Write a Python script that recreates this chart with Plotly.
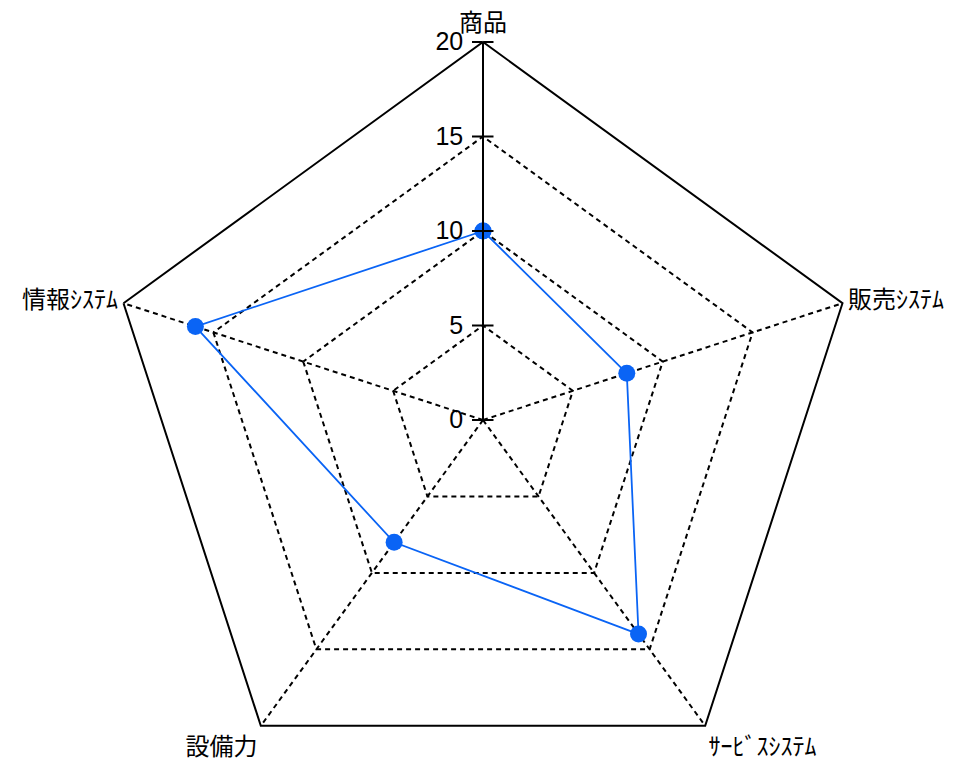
import plotly.graph_objects as go

categories = ["商品", "販売ｼｽﾃﾑ", "ｻｰﾋﾞｽｼｽﾃﾑ", "設備力", "情報ｼｽﾃﾑ"]
values = [10, 8, 14, 8, 16]
radial_ticks = [0, 5, 10, 15, 20]

FONT = "Liberation Sans, Arial, Noto Sans CJK JP"
CJK_FONT = "Noto Sans CJK JP"
BLUE = "#0a64f5"

theta = categories + [categories[0]]
r = values + [values[0]]

fig = go.Figure()
fig.add_trace(go.Scatterpolar(
    r=r, theta=theta, mode="lines+markers",
    line=dict(color=BLUE, width=1.8),
    marker=dict(color=BLUE, size=17),
    showlegend=False, hoverinfo="skip",
))
# second (overlay) polar, only for tick marks on the other side of the axis
fig.add_trace(go.Scatterpolar(
    r=[0], theta=[categories[0]], mode="markers",
    marker=dict(size=0.1, opacity=0), showlegend=False, subplot="polar2",
    hoverinfo="skip",
))

common_angular = dict(
    type="category", categoryarray=categories, direction="clockwise",
    rotation=90,
)

fig.update_layout(
    width=957, height=798,
    margin=dict(l=105, r=96, t=42, b=0),
    paper_bgcolor="white",
    font=dict(family=FONT, size=24, color="black"),
    polar=dict(
        bgcolor="white",
        gridshape="linear",
        domain=dict(x=[0, 1], y=[0, 1]),
        angularaxis=dict(
            **common_angular,
            showline=True, linecolor="black", linewidth=2,
            showgrid=True, gridcolor="black", gridwidth=2, griddash="5px,4px",
            ticks="", tickfont=dict(size=24, family=CJK_FONT, color="black"),
        ),
        radialaxis=dict(
            range=[0, 20], tickvals=radial_ticks, ticktext=[str(v) for v in radial_ticks],
            angle=90, side="counterclockwise", tickangle=90,
            showline=True, linecolor="black", linewidth=2,
            showgrid=True, gridcolor="black", gridwidth=2, griddash="5px,4px",
            ticks="outside", ticklen=10, tickwidth=1.6, tickcolor="black",
            tickfont=dict(size=25, family=FONT, color="black"),
        ),
    ),
    polar2=dict(
        bgcolor="rgba(0,0,0,0)",
        gridshape="linear",
        domain=dict(x=[0, 1], y=[0, 1]),
        angularaxis=dict(**common_angular, visible=False, showgrid=False),
        radialaxis=dict(
            range=[0, 20], tickvals=radial_ticks, angle=90, side="clockwise",
            showline=False, showgrid=False, showticklabels=False,
            ticks="outside", ticklen=10, tickwidth=1.6, tickcolor="black",
        ),
    ),
)

fig.write_html(
    "out.html",
    post_script="document.body.style.margin='0';document.body.style.overflow='hidden';document.documentElement.style.overflow='hidden';",
)
